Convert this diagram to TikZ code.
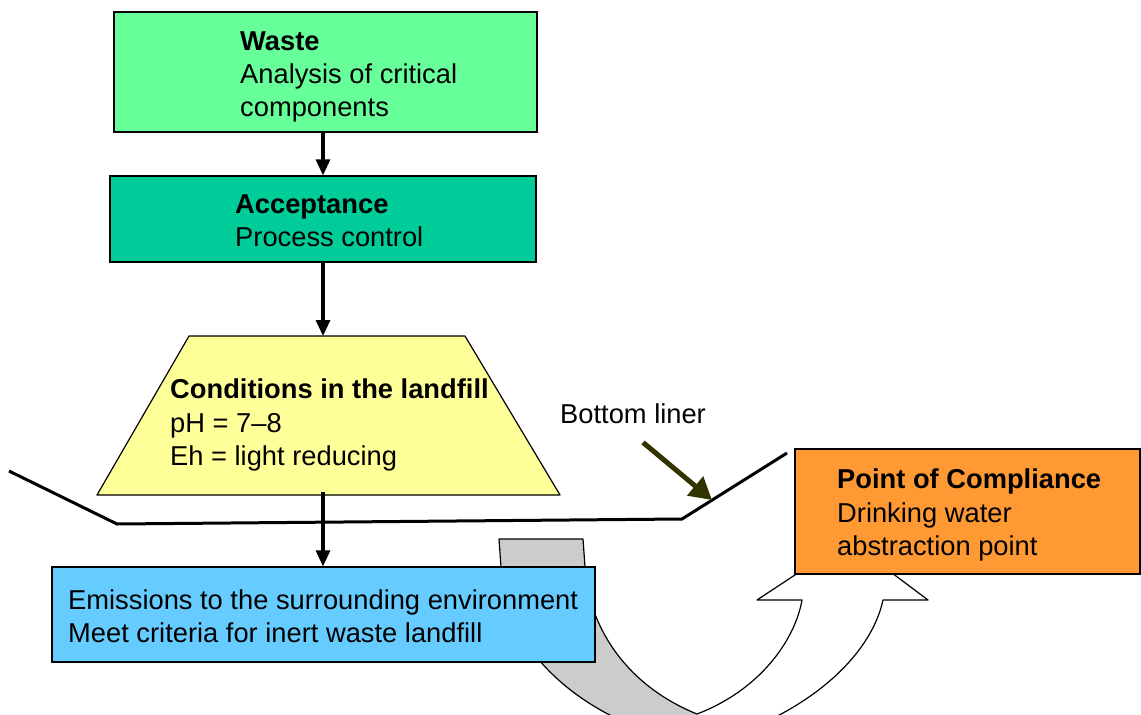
\documentclass[tikz,border=0pt]{standalone}
\usepackage{fontspec}
\setmainfont{Liberation Sans}
\usetikzlibrary{arrows.meta}
\definecolor{wastegreen}{HTML}{66FF99}
\definecolor{accgreen}{HTML}{00CC99}
\definecolor{condyellow}{HTML}{FFFF99}
\definecolor{emisblue}{HTML}{66CCFF}
\definecolor{pocorange}{HTML}{FF9933}
\definecolor{uarrowgrey}{HTML}{CCCCCC}
\definecolor{olivedark}{HTML}{333300}
\begin{document}
\begin{tikzpicture}[x=1pt,y=-1pt,
  box/.style={draw=black, line width=1.2pt, inner sep=0pt, rectangle},
  txt/.style={inner sep=0pt, anchor=base west, font=\fontsize{27.3}{33}\selectfont},
  flow/.style={line width=3.2pt, -{Triangle[length=16pt,width=14pt]}},
  linerarrow/.style={draw=olivedark, line width=5pt, -{Triangle[length=22pt,width=24pt]}},
  outline/.style={draw=black, line width=1.2pt, line join=round}
]
\useasboundingbox (0,0) rectangle (1141,715);

% big U-shaped arrow
\begin{scope}
\clip (0,0) rectangle (1141,715);
\fill[uarrowgrey] (499,539) -- (583,539) -- (585,567)
  .. controls (588,625) and (625,685) .. (697,714) -- (700,745)
  .. controls (585,725) and (503,650) .. (501,567) -- cycle;
\fill[white] (697,714) .. controls (760,690) and (795,640) .. (802,600)
  -- (757,600) -- (848,540) -- (928,600) -- (883,600)
  .. controls (870,660) and (800,720) .. (700,745) -- cycle;
\draw[outline] (499,539) -- (583,539) -- (585,567)
  .. controls (588,625) and (625,685) .. (697,714)
  .. controls (760,690) and (795,640) .. (802,600)
  -- (757,600) -- (848,540) -- (928,600) -- (883,600)
  .. controls (870,660) and (800,720) .. (700,745)
  .. controls (585,725) and (503,650) .. (501,567) -- cycle;
\end{scope}

% bottom liner
\draw[line width=3pt, line join=miter] (9,471) -- (117,524) -- (682,519) -- (787,453);
\coordinate (linerpt) at (712,500);

% boxes
\node[box, fill=wastegreen, minimum width=423pt, minimum height=120pt] (waste) at (325.5,72) {};
\node[box, fill=accgreen, minimum width=426pt, minimum height=86pt] (acc) at (323,219) {};
\draw[outline, fill=condyellow] (97,495) -- (189,336) -- (465,336) -- (560,495) -- cycle;
\coordinate (condtop) at (323,336);
\coordinate (condbot) at (323,492);
\node[box, fill=emisblue, minimum width=543pt, minimum height=95pt] (emis) at (323.5,614.5) {};
\node[box, fill=pocorange, minimum width=345pt, minimum height=125pt] (poc) at (967.5,511.5) {};

% texts
\node[txt] (t1) at (240,50) {\textbf{Waste}};
\node[txt] (t2) at (240,83) {Analysis of critical};
\node[txt] (t3) at (240,116) {components};
\node[txt] (t4) at (235,213) {\textbf{Acceptance}};
\node[txt] (t5) at (235,246) {Process control};
\node[txt] (t6) at (170,398) {\textbf{Conditions in the landfill}};
\node[txt] (t7) at (170,432) {pH = 7–8};
\node[txt] (t8) at (170,465) {Eh = light reducing};
\node[txt] (t9) at (68,609) {Emissions to the surrounding environment};
\node[txt] (t10) at (68,642) {Meet criteria for inert waste landfill};
\node[txt] (t11) at (837,488) {\textbf{Point of Compliance}};
\node[txt] (t12) at (837,522) {Drinking water};
\node[txt] (t13) at (837,555) {abstraction point};
\node[txt] (bl) at (560,423) {Bottom liner};

% connectors
\draw[flow] (waste.south -| acc.north) -- (acc.north);
\draw[flow] (acc.south) -- (condtop);
\draw[flow] (condbot) -- (emis.north -| condbot);
\draw[linerarrow] ([shift={(10,19)}]bl.south) -- (linerpt);
\end{tikzpicture}
\end{document}
